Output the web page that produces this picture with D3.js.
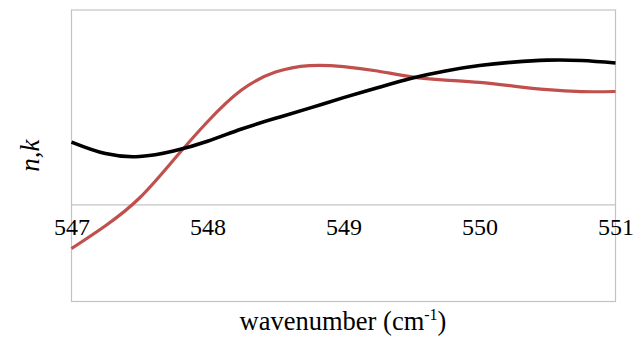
<!DOCTYPE html>
<html>
<head>
<meta charset="utf-8">
<script src="https://cdn.jsdelivr.net/npm/d3@7"></script>
<style>
  body { margin: 0; background: #fff; }
  text { font-family: "Liberation Serif", "DejaVu Serif", serif; fill: #000; }
</style>
</head>
<body>
<div id="chart"></div>
<script>
// wavenumber samples (cm-1)
const wavenumbers = [547, 547.25, 547.5, 547.75, 548, 548.25, 548.5, 548.75, 549,
                     549.25, 549.5, 549.75, 550, 550.25, 550.5, 550.75, 551];

// n (black) and k (red), arbitrary units
const nValues = [0.641, 0.522, 0.492, 0.548, 0.650, 0.775, 0.885, 0.990, 1.098,
                 1.200, 1.298, 1.373, 1.428, 1.464, 1.484, 1.480, 1.455];
const kValues = [-0.455, -0.220, 0.065, 0.456, 0.850, 1.176, 1.361, 1.428, 1.418,
                 1.372, 1.312, 1.279, 1.255, 1.217, 1.180, 1.160, 1.161];

const xTicks = [547, 548, 549, 550, 551];

const width = 638;
const height = 341;
const margin = ({top: 10, right: 22.5, bottom: 39.5, left: 71.5});

const x = d3.scaleLinear()
      .domain([547, 551])
      .range([margin.left, width - margin.right]);

const y = d3.scaleLinear()
      .domain([-1, 2])
      .range([height - margin.bottom, margin.top]);

const svg = d3.select("#chart").append("svg")
      .attr("width", width)
      .attr("height", height)
      .attr("viewBox", [0, 0, width, height]);

// plot area frame
svg.append("rect")
    .attr("x", margin.left)
    .attr("y", margin.top)
    .attr("width", width - margin.right - margin.left)
    .attr("height", height - margin.bottom - margin.top)
    .attr("fill", "none")
    .attr("stroke", "#c3c3c3")
    .attr("stroke-width", 1.2);

// horizontal axis at zero
const xAxis = g => g
      .attr("transform", `translate(0,${y(0)})`)
      .call(d3.axisBottom(x).tickValues(xTicks).tickFormat(d3.format("d")).tickSize(0).tickPadding(14))
      .call(g => g.select(".domain").attr("stroke", "#c3c3c3").attr("stroke-width", 1.2))
      .call(g => g.selectAll(".tick text")
            .attr("font-family", "Liberation Serif")
            .attr("font-size", 24)
            .attr("fill", "#000"));

svg.append("g").call(xAxis);

const series = [
  {values: kValues, color: "#c0504d", width: 3.2},
  {values: nValues, color: "#000000", width: 3.6}
];

const line = d3.line()
      .curve(d3.curveNatural)
      .x((d, i) => x(wavenumbers[i]))
      .y(d => y(d));

svg.append("g")
  .selectAll("path")
  .data(series)
  .join("path")
    .attr("fill", "none")
    .attr("stroke", d => d.color)
    .attr("stroke-width", d => d.width)
    .attr("stroke-linejoin", "round")
    .attr("d", d => line(d.values));

// axis titles
const xLabel = svg.append("text")
      .attr("x", 343)
      .attr("y", 330)
      .attr("text-anchor", "middle")
      .attr("font-size", 26.5);
xLabel.append("tspan").text("wavenumber (cm");
xLabel.append("tspan").attr("font-size", 16).attr("dy", -10).text("-1");
xLabel.append("tspan").attr("dy", 10).text(")");

svg.append("text")
    .attr("transform", `translate(39,${(margin.top + height - margin.bottom) / 2}) rotate(-90)`)
    .attr("text-anchor", "middle")
    .attr("font-size", 27)
    .attr("font-style", "italic")
    .text("n,k");
</script>
</body>
</html>
